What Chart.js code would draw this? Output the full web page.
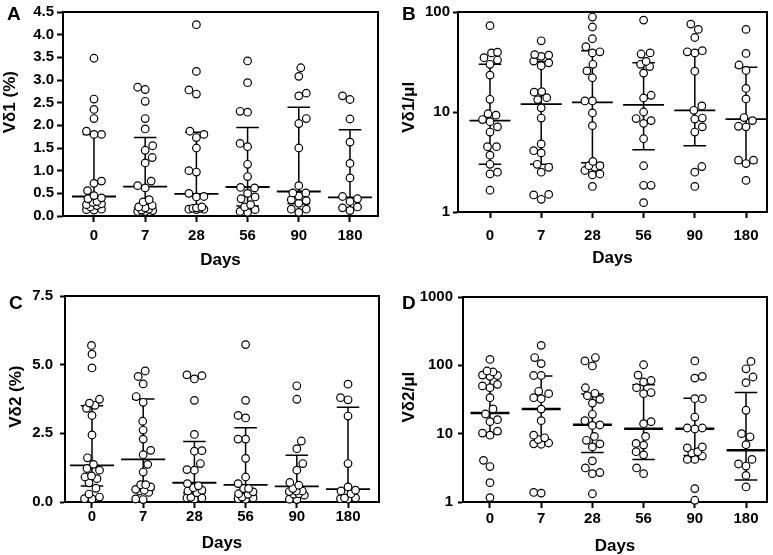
<!DOCTYPE html>
<html>
<head>
<meta charset="utf-8">
<script src="https://cdn.jsdelivr.net/npm/chart.js@4/dist/chart.umd.min.js"></script>
<style>
  body { margin: 0; background: #fff; }
  #wrap { position: relative; width: 773px; height: 555px; font-family: "Liberation Sans", Arial, sans-serif; }
  canvas { position: absolute; }
  .tag { position: absolute; font: bold 19px "Liberation Sans", Arial, sans-serif; line-height: 1; }
</style>
</head>
<body>
<div id="wrap">
  <canvas id="chartA" width="386" height="278" style="left:0;top:0"></canvas>
  <canvas id="chartB" width="383" height="278" style="left:390px;top:0"></canvas>
  <canvas id="chartC" width="386" height="275" style="left:0;top:280px"></canvas>
  <canvas id="chartD" width="383" height="275" style="left:390px;top:280px"></canvas>
  <div class="tag" style="left:7px;top:4px">A</div>
  <div class="tag" style="left:402px;top:4px">B</div>
  <div class="tag" style="left:9px;top:293px">C</div>
  <div class="tag" style="left:402px;top:293px">D</div>
</div>
<script>
const days = ["0", "7", "28", "56", "90", "180"];

// Vd1 (%)
const vd1Pct = [
  [3.48, 2.58, 2.35, 2.15, 1.87, 1.80, 1.80, 0.77, 0.72, 0.56, 0.45, 0.40, 0.38, 0.32, 0.30, 0.27, 0.25, 0.23, 0.20, 0.15, 0.14, 0.13],
  [2.84, 2.79, 2.53, 2.15, 1.92, 1.55, 1.45, 1.29, 1.17, 0.77, 0.67, 0.62, 0.36, 0.31, 0.23, 0.20, 0.18, 0.15, 0.13, 0.12, 0.10, 0.10],
  [4.22, 3.19, 2.78, 2.69, 1.87, 1.80, 1.73, 1.50, 1.00, 0.97, 0.50, 0.43, 0.42, 0.20, 0.18, 0.17, 0.17, 0.15, 0.15, 0.14],
  [3.42, 2.94, 2.31, 2.29, 1.60, 1.53, 1.14, 0.87, 0.63, 0.62, 0.50, 0.42, 0.38, 0.25, 0.20, 0.14, 0.10, 0.08],
  [3.27, 3.08, 2.71, 2.65, 2.15, 2.04, 1.50, 0.67, 0.51, 0.51, 0.44, 0.36, 0.34, 0.28, 0.15, 0.15, 0.08],
  [2.65, 2.57, 2.14, 1.63, 1.16, 0.84, 0.43, 0.38, 0.32, 0.20, 0.18, 0.12]
];
const vd1PctMed = [0.43, 0.65, 0.49, 0.64, 0.54, 0.41];
const vd1PctQ1 = [0.20, 0.18, 0.17, 0.22, 0.27, 0.19];
const vd1PctQ3 = [1.80, 1.73, 1.85, 1.95, 2.40, 1.90];

// Vd1 / ul
const vd1Abs = [
  [73, 39.6, 39, 34.9, 33.1, 30, 23.4, 13.4, 9.6, 9.3, 8.4, 8.0, 7.1, 6.3, 4.5, 4.5, 3.7, 3.0, 2.5, 2.4, 1.65],
  [51.5, 37.5, 37, 36, 32.3, 31, 29, 16, 15.8, 13.9, 13.3, 11, 8.7, 4.8, 4.1, 3.9, 3.0, 2.8, 2.5, 1.5, 1.48, 1.34],
  [89, 70.8, 54, 45, 40, 39, 30, 25.8, 22, 12.9, 12.9, 9.8, 7.3, 3.2, 2.9, 2.9, 2.8, 2.6, 2.4, 2.35, 1.8],
  [83, 39, 38, 32, 30, 28.5, 24.5, 14.7, 13.8, 10, 8.6, 8.2, 7.7, 5.4, 2.9, 1.85, 1.85, 1.24],
  [75.7, 67, 55.6, 41, 40, 39, 25.6, 11.5, 10.4, 8.7, 8.5, 7.1, 6.3, 2.85, 2.5, 1.8],
  [67, 38.5, 29.5, 26, 17.2, 13.5, 8.8, 8.2, 7.2, 7.1, 3.3, 3.3, 3.05, 2.07]
];
const vd1AbsMed = [8.2, 12, 12.5, 11.8, 10.4, 8.5];
const vd1AbsQ1 = [3.0, 3.0, 3.1, 4.2, 4.6, 3.1];
const vd1AbsQ3 = [30, 32, 41, 31, 39, 28];

// Vd2 (%)
const vd2Pct = [
  [5.70, 5.38, 4.88, 3.74, 3.60, 3.52, 3.41, 3.15, 2.44, 1.61, 1.37, 1.22, 1.16, 0.95, 0.91, 0.85, 0.70, 0.50, 0.29, 0.18, 0.12, 0.11],
  [4.77, 4.57, 4.30, 3.84, 3.63, 2.94, 2.62, 2.29, 1.88, 1.72, 1.37, 1.09, 0.63, 0.63, 0.55, 0.46, 0.43, 0.40, 0.35, 0.11, 0.09],
  [4.63, 4.60, 4.48, 3.70, 2.46, 1.87, 1.85, 1.40, 1.18, 1.16, 0.67, 0.59, 0.52, 0.43, 0.40, 0.34, 0.17, 0.15, 0.15, 0.11],
  [5.73, 3.70, 3.15, 3.06, 2.29, 2.29, 1.59, 0.91, 0.67, 0.49, 0.49, 0.37, 0.30, 0.28, 0.18, 0.15, 0.12, 0.10],
  [4.23, 3.74, 2.22, 1.94, 1.40, 1.16, 0.71, 0.61, 0.49, 0.40, 0.40, 0.38, 0.30, 0.28, 0.25, 0.10, 0.09],
  [4.29, 3.80, 3.72, 3.13, 1.40, 0.55, 0.43, 0.40, 0.30, 0.15, 0.15, 0.12, 0.11]
];
const vd2PctMed = [1.33, 1.55, 0.70, 0.62, 0.57, 0.47];
const vd2PctQ1 = [0.58, 0.45, 0.33, 0.25, 0.30, 0.15];
const vd2PctQ3 = [3.50, 3.75, 2.20, 2.70, 1.70, 3.45];

// Vd2 / ul
const vd2Abs = [
  [122, 82.6, 79.9, 72, 71, 69, 52.7, 50, 47, 33.6, 23, 19.4, 16, 15, 10.9, 10.2, 9.5, 4.07, 3.3, 1.92, 1.16],
  [196, 130, 106, 71, 71, 41.7, 38.5, 33.6, 32.5, 22.9, 15.5, 9.5, 8.7, 8.2, 7.3, 7.1, 7.0, 1.38, 1.35],
  [130, 116, 98, 47, 39, 36, 31.8, 28, 19.2, 15.5, 13.4, 13.2, 9.1, 8.0, 7.1, 6.4, 4.0, 3.15, 2.7, 2.6, 1.32],
  [102, 72, 60, 57, 47, 40, 38.5, 15, 14, 9.1, 7.2, 6.8, 5.45, 4.9, 3.15, 2.6],
  [116, 69, 65, 32.5, 32.5, 17.5, 12.1, 12.1, 11.7, 6.4, 6.2, 5.45, 5.2, 4.7, 4.2, 4.2, 1.57, 1.06],
  [114, 89, 67.5, 55.8, 22, 10, 9.0, 6.9, 4.2, 3.6, 3.36, 2.45, 1.66]
];
const vd2AbsMed = [20, 23, 13.5, 11.8, 11.8, 5.7];
const vd2AbsQ1 = [10, 7.3, 5.3, 4.2, 4.8, 2.1];
const vd2AbsQ3 = [70, 70, 38, 52, 33, 40];

const tickFont = { family: "'Liberation Sans', Arial, sans-serif", size: 15, weight: "bold" };
const titleFont = { family: "'Liberation Sans', Arial, sans-serif", size: 17, weight: "bold", lineHeight: 1 };
const DIAM = 8.8;        // min spacing between dot centres (px)
const SPREAD = 15;       // widest sideways shift allowed (px)

// box around the plot area
const framePlugin = {
  id: "frame",
  beforeDatasetsDraw(chart) {
    const a = chart.chartArea, ctx = chart.ctx;
    ctx.save();
    ctx.strokeStyle = "#000";
    ctx.lineWidth = 2;
    ctx.strokeRect(a.left, a.top, a.right - a.left, a.bottom - a.top);
    ctx.restore();
  }
};

function barData(med, q1, q3, medHalf, capHalf) {
  let whisk = [], caps = [], meds = [];
  med.forEach((m, i) => {
    whisk.push({ x: i, y: q1[i] }, { x: i, y: q3[i] }, { x: i, y: null });
    caps.push({ x: i - capHalf, y: q3[i] }, { x: i + capHalf, y: q3[i] }, { x: i, y: null });
    caps.push({ x: i - capHalf, y: q1[i] }, { x: i + capHalf, y: q1[i] }, { x: i, y: null });
    meds.push({ x: i - medHalf, y: m }, { x: i + medHalf, y: m }, { x: i, y: null });
  });
  return { whisk, caps, meds };
}

// spread points sideways so circles overlap as little as possible (dot plot)
function swarm(chart, groups) {
  const xs = chart.scales.x, ys = chart.scales.y;
  const unit = xs.getPixelForValue(1) - xs.getPixelForValue(0);
  const out = [];
  groups.forEach((vals, i) => {
    const pts = vals.map(v => ({ v: v, py: ys.getPixelForValue(v) })).sort((a, b) => b.py - a.py);
    const placed = [];
    let flip = 1;
    pts.forEach(p => {
      let best = 0, bestGap = -1;
      for (let k = 0; k <= SPREAD * 2; k++) {
        const dx = (k % 2 ? 1 : -1) * flip * Math.ceil(k / 2) * 0.5;
        let gap = Infinity;
        placed.forEach(q => { gap = Math.min(gap, Math.hypot(dx - q.dx, p.py - q.py)); });
        if (gap >= DIAM) { best = dx; bestGap = gap; break; }
        if (gap > bestGap + 0.3) { best = dx; bestGap = gap; }
      }
      flip = -flip;
      placed.push({ dx: best, py: p.py });
      out.push({ x: i + best / unit, y: p.v });
    });
  });
  return out;
}

function makePanel(id, groups, med, q1, q3, p) {
  const bars = barData(med, q1, q3, p.medHalf, 0.22);
  const start = [];
  groups.forEach((vals, i) => vals.forEach(v => start.push({ x: i, y: v })));
  const lineDs = (data, w) => ({
    type: "line", data: data, borderColor: "#000", borderWidth: w,
    pointRadius: 0, spanGaps: false, fill: false, clip: false
  });
  const yAxis = Object.assign({
    border: { display: true, color: "#000", width: 2 },
    grid: { drawOnChartArea: false, drawTicks: true, tickLength: p.yTick, tickColor: "#000", tickWidth: 2 },
    ticks: { color: "#000", font: tickFont, padding: p.yPad },
    title: { display: true, text: p.yTitle, color: "#000", font: titleFont, padding: { top: p.yTitlePad, bottom: 0 } },
    afterFit: s => { s.width = p.yWidth; }
  }, p.yScale);
  yAxis.ticks = Object.assign(yAxis.ticks, p.yTicks);

  const chart = new Chart(document.getElementById(id), {
    type: "scatter",
    data: {
      datasets: [
        { data: start, pointRadius: 3.8, pointBorderWidth: 1.2, pointBackgroundColor: "#fff", pointBorderColor: "#000", clip: false },
        lineDs(bars.meds, p.medWidth),
        lineDs(bars.caps, 1.5),
        lineDs(bars.whisk, 1.5)
      ]
    },
    options: {
      responsive: false,
      animation: false,
      layout: { padding: { left: 0, right: p.padRight, top: p.padTop, bottom: 0 } },
      plugins: { legend: { display: false }, tooltip: { enabled: false } },
      scales: {
        x: {
          type: "linear", min: p.xMin, max: p.xMax,
          afterBuildTicks: s => { s.ticks = days.map((d, i) => ({ value: i })); },
          border: { display: true, color: "#000", width: 2 },
          grid: { drawOnChartArea: false, drawTicks: true, tickLength: 6, tickColor: "#000", tickWidth: 2 },
          ticks: { color: "#000", font: tickFont, padding: p.xPad, maxRotation: 0, callback: v => days[v] },
          title: { display: true, text: "Days", color: "#000", font: titleFont, padding: { top: 0, bottom: p.xTitlePad } },
          afterFit: s => { s.height = p.xHeight; }
        },
        y: yAxis
      }
    },
    plugins: [framePlugin]
  });
  chart.data.datasets[0].data = swarm(chart, groups);
  chart.update("none");
  return chart;
}

makePanel("chartA", vd1Pct, vd1PctMed, vd1PctQ1, vd1PctQ3, {
  yScale: { type: "linear", min: 0, max: 4.5 },
  yTicks: { stepSize: 0.5, callback: v => v.toFixed(1) },
  yTitle: "     Vδ1 (%)", yWidth: 63, yTick: 6, yPad: 3, yTitlePad: 2,
  padTop: 10, padRight: 8, xHeight: 62, xPad: 5, xTitlePad: 9,
  xMin: -0.605, xMax: 5.547, medHalf: 0.43, medWidth: 1.8
});

makePanel("chartB", vd1Abs, vd1AbsMed, vd1AbsQ1, vd1AbsQ3, {
  yScale: { type: "logarithmic", min: 1, max: 100, afterBuildTicks: s => { s.ticks = [1, 10, 100].map(v => ({ value: v })); } },
  yTicks: { callback: v => String(v) },
  yTitle: "  Vδ1/μl", yWidth: 68, yTick: 5, yPad: 3, yTitlePad: 11,
  padTop: 8, padRight: 6, xHeight: 66, xPad: 9, xTitlePad: 11,
  xMin: -0.625, xMax: 5.41, medHalf: 0.4, medWidth: 1.8
});

makePanel("chartC", vd2Pct, vd2PctMed, vd2PctQ1, vd2PctQ3, {
  yScale: { type: "linear", min: 0, max: 7.5 },
  yTicks: { stepSize: 2.5, callback: v => v.toFixed(1) },
  yTitle: " Vδ2 (%)", yWidth: 65, yTick: 5, yPad: 7, yTitlePad: 8,
  padTop: 16, padRight: 7, xHeight: 53, xPad: 0, xTitlePad: 3,
  xMin: -0.527, xMax: 5.605, medHalf: 0.43, medWidth: 1.8
});

makePanel("chartD", vd2Abs, vd2AbsMed, vd2AbsQ1, vd2AbsQ3, {
  yScale: { type: "logarithmic", min: 1, max: 1000, afterBuildTicks: s => { s.ticks = [1, 10, 100, 1000].map(v => ({ value: v })); } },
  yTicks: { callback: v => String(v) },
  yTitle: " Vδ2/μl", yWidth: 73, yTick: 5, yPad: 5, yTitlePad: 11,
  padTop: 17, padRight: 6, xHeight: 53, xPad: 2, xTitlePad: 0,
  xMin: -0.527, xMax: 5.41, medHalf: 0.38, medWidth: 2.5
});
</script>
</body>
</html>
